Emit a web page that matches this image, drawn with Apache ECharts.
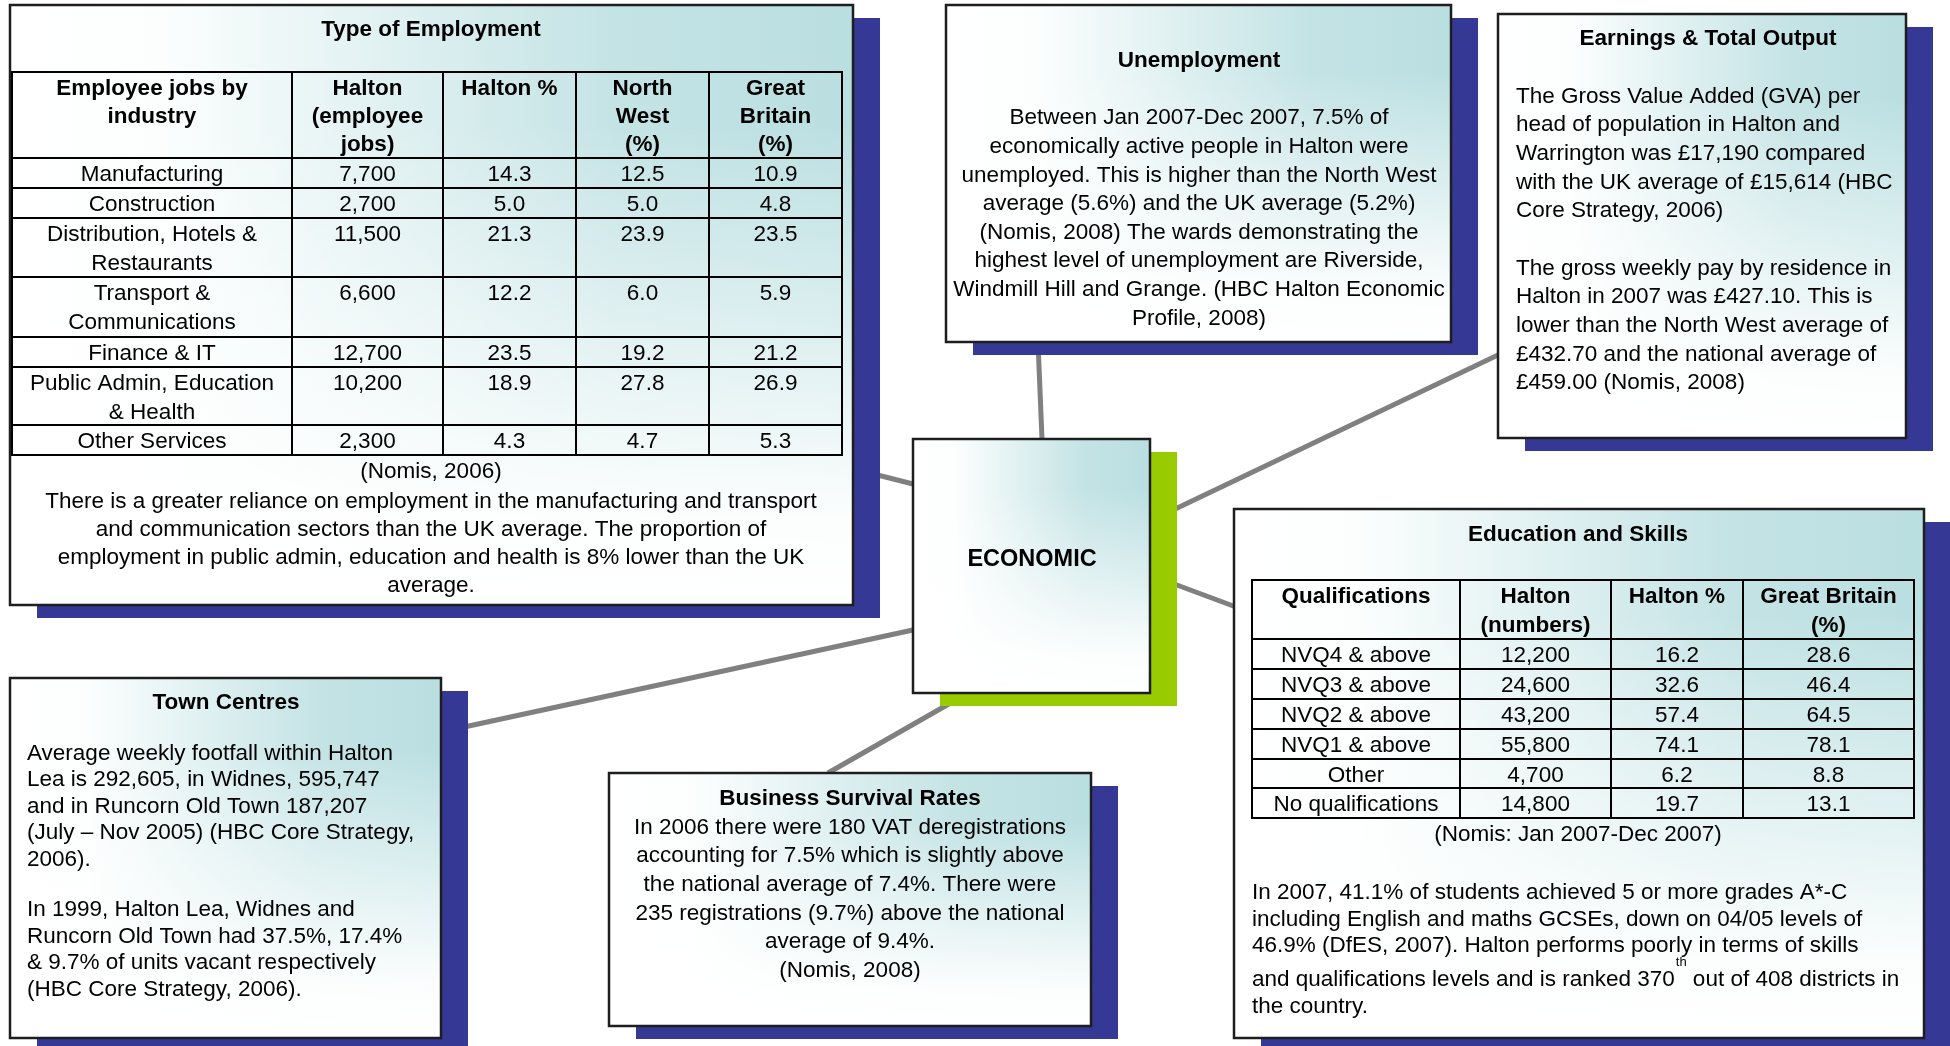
<!DOCTYPE html>
<html>
<head>
<meta charset="utf-8">
<script src="https://cdn.jsdelivr.net/npm/echarts@6/dist/echarts.min.js"></script>
<style>
html,body{margin:0;padding:0;background:#fff;}
#c{width:1950px;height:1046px;}
</style>
</head>
<body>
<div id="c"></div>
<script>
// ---------- DATA ----------
const empIndustries = [["Manufacturing"], ["Construction"], ["Distribution, Hotels &", "Restaurants"], ["Transport &", "Communications"], ["Finance & IT"], ["Public Admin, Education", "& Health"], ["Other Services"]];
const empHaltonJobs = [7700, 2700, 11500, 6600, 12700, 10200, 2300];
const empHaltonPct = [14.3, 5.0, 21.3, 12.2, 23.5, 18.9, 4.3];
const empNorthWestPct = [12.5, 5.0, 23.9, 6.0, 19.2, 27.8, 4.7];
const empGreatBritainPct = [10.9, 4.8, 23.5, 5.9, 21.2, 26.9, 5.3];
const empHeaders = [["Employee jobs by", "industry"], ["Halton", "(employee", "jobs)"], ["Halton %"], ["North", "West", "(%)"], ["Great", "Britain", "(%)"]];
const empSource = "(Nomis, 2006)";
const empText = ["There is a greater reliance on employment in the manufacturing and transport", "and communication sectors than the UK average. The proportion of", "employment in public admin, education and health is 8% lower than the UK", "average."];

const qualNames = ["NVQ4 & above", "NVQ3 & above", "NVQ2 & above", "NVQ1 & above", "Other", "No qualifications"];
const qualHaltonNum = [12200, 24600, 43200, 55800, 4700, 14800];
const qualHaltonPct = [16.2, 32.6, 57.4, 74.1, 6.2, 19.7];
const qualGreatBritainPct = [28.6, 46.4, 64.5, 78.1, 8.8, 13.1];
const qualHeaders = [["Qualifications"], ["Halton", "(numbers)"], ["Halton %"], ["Great Britain", "(%)"]];
const qualSource = "(Nomis: Jan 2007-Dec 2007)";
const eduText = ["In 2007, 41.1% of students achieved 5 or more grades A*-C", "including English and maths GCSEs, down on 04/05 levels of", "46.9% (DfES, 2007). Halton performs poorly in terms of skills"];
const eduRankLine = ["and qualifications levels and is ranked 370", "th", " out of 408 districts in"];
const eduLast = "the country.";

const unempText = ["Between Jan 2007-Dec 2007, 7.5% of", "economically active people in Halton were", "unemployed. This is higher than the North West", "average (5.6%) and the UK average (5.2%)", "(Nomis, 2008) The wards demonstrating the", "highest level of unemployment are Riverside,", "Windmill Hill and Grange. (HBC Halton Economic", "Profile, 2008)"];
const earnText1 = ["The Gross Value Added (GVA) per", "head of population in Halton and", "Warrington was £17,190 compared", "with the UK average of £15,614 (HBC", "Core Strategy, 2006)"];
const earnText2 = ["The gross weekly pay by residence in", "Halton in 2007 was £427.10. This is", "lower than the North West average of", "£432.70 and the national average of", "£459.00 (Nomis, 2008)"];
const townText1 = ["Average weekly footfall within Halton", "Lea is 292,605, in Widnes, 595,747", "and in Runcorn Old Town 187,207", "(July – Nov 2005) (HBC Core Strategy,", "2006)."];
const townText2 = ["In 1999, Halton Lea, Widnes and", "Runcorn Old Town had 37.5%, 17.4%", "& 9.7% of units vacant respectively", "(HBC Core Strategy, 2006)."];
const bizText = ["In 2006 there were 180 VAT deregistrations", "accounting for 7.5% which is slightly above", "the national average of 7.4%. There were", "235 registrations (9.7%) above the national", "average of 9.4%.", "(Nomis, 2008)"];
const titles = {emp: "Type of Employment", unemp: "Unemployment", earn: "Earnings & Total Output", center: "ECONOMIC", edu: "Education and Skills", town: "Town Centres", biz: "Business Survival Rates"};

// ---------- LAYOUT / STYLE ----------
const FF = '"Liberation Sans", Arial, Helvetica, sans-serif';
const FS = 22.5;
const DY = 1.5;
const els = [];
const NAVY = '#363895', GREEN = '#99cc00';
const hGrad = {type: 'linear', x: 0, y: 0, x2: 1, y2: 0, colorStops: [
  {offset: 0, color: '#ffffff'}, {offset: 0.18, color: '#fcfefe'}, {offset: 0.72, color: '#c4e3e5'}, {offset: 1, color: '#badfe1'}]};
const vGrad = {type: 'linear', x: 0, y: 0, x2: 0, y2: 1, colorStops: [
  {offset: 0, color: 'rgba(255,255,255,0)'}, {offset: 0.2, color: 'rgba(255,255,255,0)'},
  {offset: 0.85, color: 'rgba(255,255,255,0.95)'}, {offset: 1, color: 'rgba(255,255,255,1)'}]};

const mctx = document.createElement('canvas').getContext('2d');
function measure(s, size, bold) { mctx.font = (bold ? 'bold ' : '') + size + 'px ' + FF; return mctx.measureText(s).width; }

function txt(x, y, s, o) {
  o = o || {};
  const size = o.size || FS;
  const align = o.align || 'center';
  els.push({type: 'text', x: x, y: y + DY, z: 10, silent: true, style: {
    text: s, fill: '#000', font: (o.bold ? 'bold ' : '') + size + 'px ' + FF,
    align: align, textAlign: align, verticalAlign: 'middle', textVerticalAlign: 'middle'}});
}
function lines(x, y0, step, arr, o) { arr.forEach((s, i) => txt(x, y0 + i * step, s, o)); }
function line(x1, y1, x2, y2, color, w, z) {
  els.push({type: 'line', z: z, silent: true, shape: {x1: x1, y1: y1, x2: x2, y2: y2}, style: {stroke: color, lineWidth: w, lineCap: 'butt'}});
}
function box(x, y, w, h, shadow) {
  els.push({type: 'rect', z: 2, silent: true, shape: {x: x + 27, y: y + 13, width: w, height: h}, style: {fill: shadow}});
  els.push({type: 'rect', z: 3, silent: true, shape: {x: x, y: y, width: w, height: h}, style: {fill: hGrad}});
  els.push({type: 'rect', z: 4, silent: true, shape: {x: x, y: y, width: w, height: h}, style: {fill: vGrad, stroke: '#1e1e1e', lineWidth: 2.5}});
}
function table(cols, rows, headers, body, hdrStep, bodyStep) {
  const L = cols[0], R = cols[cols.length - 1], T = rows[0], B = rows[rows.length - 1];
  rows.forEach(r => line(L - 1, r, R + 1, r, '#000', 2, 6));
  cols.forEach(c => line(c, T, c, B, '#000', 2, 6));
  headers.forEach((h, ci) => lines((cols[ci] + cols[ci + 1]) / 2, T + 15.5, hdrStep, h, {bold: true}));
  body.forEach((row, ri) => row.forEach((cell, ci) => lines((cols[ci] + cols[ci + 1]) / 2, rows[ri + 1] + 15.5, bodyStep, cell)));
}
const fmtInt = v => v.toLocaleString('en-GB');
const fmt1 = v => v.toFixed(1);

// ---------- connectors ----------
const GREY = '#808080';
line(1038, 342, 1042, 439, GREY, 5, 1);
line(1150, 521, 1498, 355, GREY, 5, 1);
line(1150, 575, 1236, 607, GREY, 5, 1);
line(968, 693, 828, 773, GREY, 5, 1);
line(913, 630, 441, 732, GREY, 5, 1);
line(850, 468, 913, 484, GREY, 5, 1);

// ---------- Type of Employment ----------
box(10, 5, 843, 600, NAVY);
txt(431, 28, titles.emp, {bold: true});
const empBody = empIndustries.map((ind, i) => [ind, [fmtInt(empHaltonJobs[i])], [fmt1(empHaltonPct[i])], [fmt1(empNorthWestPct[i])], [fmt1(empGreatBritainPct[i])]]);
table([12, 292, 443, 576, 709, 842], [72, 158, 188, 218, 277, 337, 367, 425, 455], empHeaders, empBody, 27.7, 28.5);
txt(431, 470, empSource);
lines(431, 500, 28.1, empText);

// ---------- Unemployment ----------
box(946, 5, 505, 337, NAVY);
txt(1199, 59, titles.unemp, {bold: true});
lines(1199, 116.7, 28.6, unempText);

// ---------- Earnings ----------
box(1498, 14, 408, 424, NAVY);
txt(1708, 37, titles.earn, {bold: true});
lines(1516, 95, 28.6, earnText1, {align: 'left'});
lines(1516, 267, 28.6, earnText2, {align: 'left'});

// ---------- ECONOMIC ----------
box(913, 439, 237, 254, GREEN);
txt(1032, 558, titles.center, {bold: true, size: 23.5});

// ---------- Education ----------
box(1234, 509, 690, 529, NAVY);
txt(1578, 533, titles.edu, {bold: true});
const qualBody = qualNames.map((q, i) => [[q], [fmtInt(qualHaltonNum[i])], [fmt1(qualHaltonPct[i])], [fmt1(qualGreatBritainPct[i])]]);
table([1252, 1460, 1611, 1743, 1914], [580, 639, 669, 699, 729, 759, 788, 818], qualHeaders, qualBody, 28.8, 29);
txt(1578, 833, qualSource);
lines(1252, 891.7, 26.2, eduText, {align: 'left'});
(function () {
  const y = 978.6, x0 = 1252;
  txt(x0, y, eduRankLine[0], {align: 'left'});
  const w0 = measure(eduRankLine[0], FS);
  txt(x0 + w0 + 1, 961, eduRankLine[1], {align: 'left', size: 13});
  const w1 = measure(eduRankLine[1], 13);
  txt(x0 + w0 + 1 + w1, y, eduRankLine[2], {align: 'left'});
})();
txt(1252, 1005.6, eduLast, {align: 'left'});

// ---------- Town Centres ----------
box(10, 678, 431, 360, NAVY);
txt(226, 701, titles.town, {bold: true});
lines(27, 752, 26.5, townText1, {align: 'left'});
lines(27, 908.5, 26.5, townText2, {align: 'left'});

// ---------- Business Survival ----------
box(609, 773, 482, 253, NAVY);
txt(850, 797, titles.biz, {bold: true});
lines(850, 826, 28.6, bizText);

const chart = echarts.init(document.getElementById('c'), null, {renderer: 'canvas'});
chart.setOption({animation: false, backgroundColor: '#ffffff', graphic: {elements: els}});
</script>
</body>
</html>
